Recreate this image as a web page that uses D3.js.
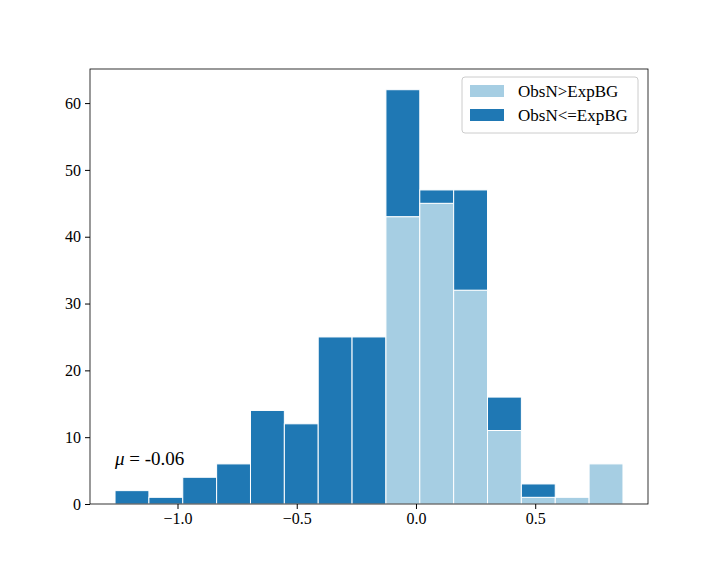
<!DOCTYPE html>
<html><head><meta charset="utf-8">
<script src="https://cdn.jsdelivr.net/npm/d3@7"></script>
<style>body{margin:0;background:#fff}text{font-family:"Liberation Serif","DejaVu Serif",serif}</style>
</head><body><svg id="c" width="720" height="576"></svg>
<script>
const binStart = -1.262, binWidth = 0.142;
const lightVals = [0,0,0,0,0,0,0,0,43,45,32,11,1,1,6];
const darkVals  = [2,1,4,6,14,12,25,25,19,2,15,5,2,0,0];
const xTicks = [-1.0,-0.5,0.0,0.5];
const yTicks = [0,10,20,30,40,50,60];
const seriesNames = ["ObsN>ExpBG","ObsN<=ExpBG"];
const colors = ["#a6cee3","#1f78b4"];

const svg = d3.select("#c");
const L=90,R=648,T=69,B=504;
const x = d3.scaleLinear().domain([-1.367,0.973]).range([L,R]);
const y = d3.scaleLinear().domain([0,65.1]).range([B,T]);

const g = svg.append("g");
lightVals.forEach((v,i)=>{
  const x0=binStart+i*binWidth, x1=x0+binWidth;
  if(v>0) g.append("rect").attr("x",x(x0)).attr("width",x(x1)-x(x0)).attr("y",y(v)).attr("height",y(0)-y(v)).attr("fill",colors[0]).attr("stroke","#fff").attr("stroke-width",1);
  const d=darkVals[i];
  if(d>0) g.append("rect").attr("x",x(x0)).attr("width",x(x1)-x(x0)).attr("y",y(v+d)).attr("height",y(v)-y(v+d)).attr("fill",colors[1]).attr("stroke","#fff").attr("stroke-width",1);
});
svg.append("rect").attr("x",L).attr("y",T).attr("width",R-L).attr("height",B-T).attr("fill","none").attr("stroke","#000").attr("stroke-width",0.8);

const xa = svg.append("g").attr("transform",`translate(0,${B})`).call(d3.axisBottom(x).tickValues(xTicks).tickSize(5).tickPadding(4).tickFormat(d=>d3.format(".1f")(d).replace("-","\u2212")));
const ya = svg.append("g").attr("transform",`translate(${L},0)`).call(d3.axisLeft(y).tickValues(yTicks).tickSize(5).tickPadding(4));
[xa,ya].forEach(a=>{a.select(".domain").remove();a.selectAll("text").attr("font-size",16).attr("font-family","Liberation Serif").attr("fill","#000");a.selectAll("line").attr("stroke","#000");});

const lg = svg.append("g");
lg.append("rect").attr("x",462).attr("y",77).attr("width",176).attr("height",56).attr("rx",3).attr("fill","#fff").attr("stroke","#ccc");
seriesNames.forEach((n,i)=>{
  lg.append("rect").attr("x",470).attr("y",85+i*24).attr("width",34).attr("height",12).attr("fill",colors[i]);
  lg.append("text").attr("x",518).attr("y",97+i*24).attr("font-size",17).text(n);
});
const t = svg.append("text").attr("x",115).attr("y",465).attr("font-size",19);
t.append("tspan").attr("font-style","italic").text("μ");
t.append("tspan").text(" = -0.06");
</script></body></html>
